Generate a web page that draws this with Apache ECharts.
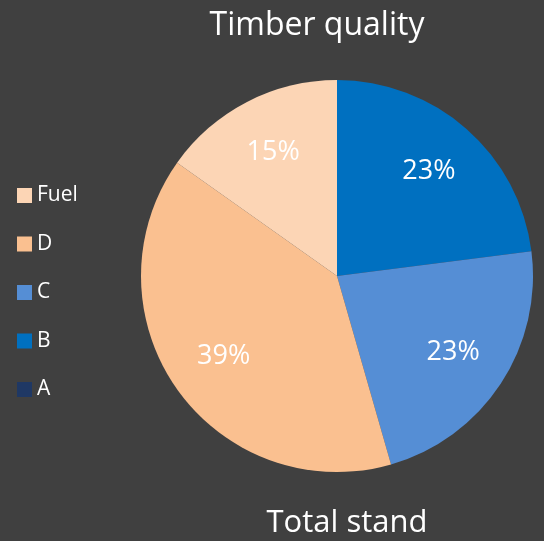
<!DOCTYPE html>
<html>
<head>
<meta charset="utf-8">
<script src="https://cdn.jsdelivr.net/npm/echarts@6/dist/echarts.min.js"></script>
<style>
html,body{margin:0;padding:0;background:#404040;}
#chart{width:544px;height:541px;}
</style>
</head>
<body>
<div id="chart"></div>
<script>
const categories = ['A', 'B', 'C', 'D', 'Fuel'];
const values = [0, 23.0, 22.6, 39.3, 15.2];
const colors = ['#1F3864', '#0070C0', '#558ED5', '#FAC090', '#FCD5B5'];
const legendOrder = ['Fuel', 'D', 'C', 'B', 'A'];
const titleText = 'Timber quality';
const subtitleText = 'Total stand';

const font = '"Open Sans", "DejaVu Sans", sans-serif';
const data = categories.map((c, i) => ({ name: c, value: values[i], itemStyle: { color: colors[i] } }));

const chart = echarts.init(document.getElementById('chart'), null, { renderer: 'canvas' });
chart.setOption({
  backgroundColor: '#404040',
  animation: false,
  title: [
    { text: titleText, left: 312, top: 5, textAlign: 'center',
      textStyle: { color: '#FFFFFF', fontFamily: font, fontSize: 32, fontWeight: 'normal' } },
    { text: subtitleText, left: 342, top: 503, textAlign: 'center',
      textStyle: { color: '#FFFFFF', fontFamily: font, fontSize: 31, fontWeight: 'normal' } }
  ],
  legend: {
    orient: 'vertical',
    left: 12,
    top: 180,
    data: legendOrder,
    itemWidth: 15,
    itemHeight: 15,
    itemGap: 27.5,
    icon: 'rect',
    itemStyle: { borderWidth: 0 },
    textStyle: { color: '#FFFFFF', fontFamily: font, fontSize: 21, lineHeight: 21 }
  },
  series: [
    {
      type: 'pie',
      center: [337, 276],
      radius: [0, 196],
      startAngle: 90,
      clockwise: true,
      data: data,
      label: { show: false },
      labelLine: { show: false },
      emphasis: { disabled: true }
    },
    {
      type: 'pie',
      center: [337, 276],
      radius: [76, 196],
      startAngle: 90,
      clockwise: true,
      percentPrecision: 0,
      silent: true,
      data: categories.map((c, i) => ({ name: c, value: values[i] })),
      itemStyle: { color: 'rgba(0,0,0,0)' },
      label: {
        show: true,
        position: 'inside',
        color: '#FFFFFF',
        fontFamily: font,
        fontSize: 27,
        formatter: p => p.value > 0 ? p.percent + '%' : ''
      },
      labelLine: { show: false },
      emphasis: { disabled: true }
    }
  ]
});
</script>
</body>
</html>
